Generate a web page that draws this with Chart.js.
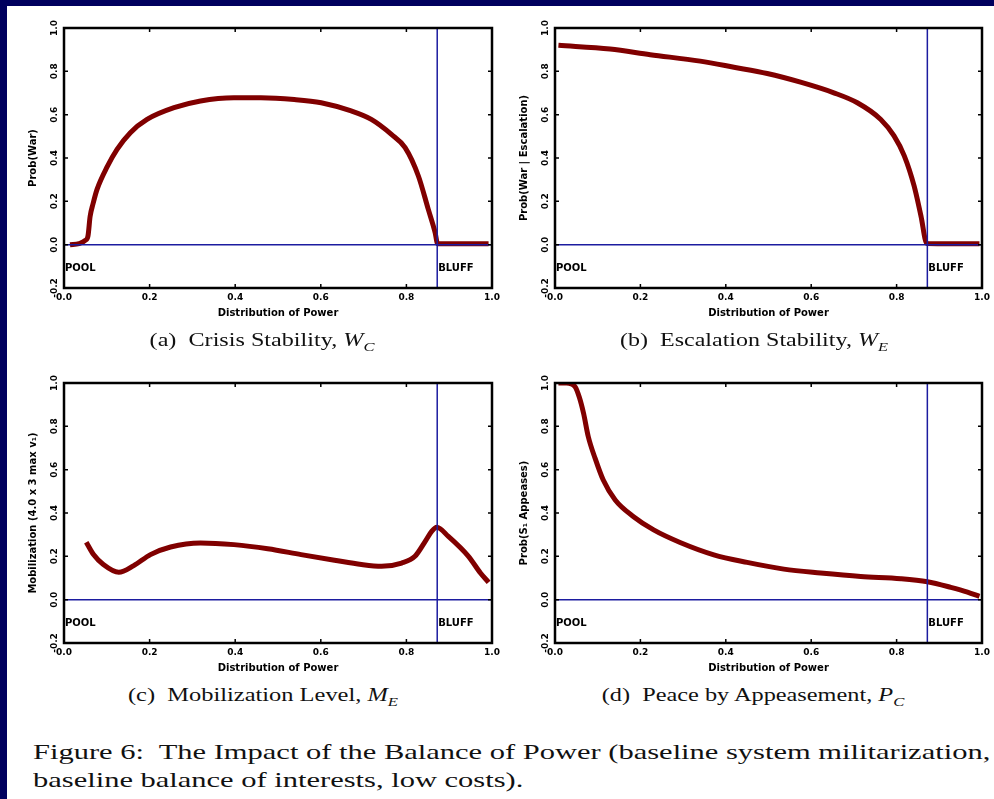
<!DOCTYPE html>
<html>
<head>
<meta charset="utf-8">
<script src="https://cdn.jsdelivr.net/npm/chart.js@4"></script>
<style>
  body { margin: 0; background: #00005e; }
  #page { position: relative; width: 994px; height: 799px; overflow: hidden; background: #00005e; }
  #sheet { position: absolute; left: 7px; top: 6px; right: 0; bottom: 0; background: #fff; }
  .plot { position: absolute; }
  .sub, .cap { position: absolute; font-family: "Liberation Serif", "Times New Roman", serif; color: #111; white-space: nowrap; }
  .sub { font-size: 19px; }
  .sub sub { font-size: 13px; }
  .cap { font-size: 21px; left: 33px; transform-origin: left center; }
</style>
</head>
<body>
<div id="page">
  <div id="sheet"></div>
  <canvas class="plot" id="chartA" width="500" height="320" style="left:0;top:0"></canvas>
  <canvas class="plot" id="chartB" width="494" height="320" style="left:500px;top:0"></canvas>
  <canvas class="plot" id="chartC" width="500" height="320" style="left:0;top:355px"></canvas>
  <canvas class="plot" id="chartD" width="494" height="320" style="left:500px;top:355px"></canvas>

  <div class="sub" data-w="225" style="left:262px;top:342px">(a)&nbsp; Crisis Stability, <i>W</i><sub><i>C</i></sub></div>
  <div class="sub" data-w="268" style="left:754px;top:342px">(b)&nbsp; Escalation Stability, <i>W</i><sub><i>E</i></sub></div>
  <div class="sub" data-w="270" style="left:263px;top:697px">(c)&nbsp; Mobilization Level, <i>M</i><sub><i>E</i></sub></div>
  <div class="sub" data-w="303" style="left:753px;top:697px">(d)&nbsp; Peace by Appeasement, <i>P</i><sub><i>C</i></sub></div>

  <div class="cap" id="cap1" style="top:740px">Figure 6:&nbsp; The Impact of the Balance of Power (baseline system militarization,</div>
  <div class="cap" id="cap2" style="top:768px">baseline balance of interests, low costs).</div>
</div>

<script>
// tick values shared by all four panels
const powerTicks = [0, 0.2, 0.4, 0.6, 0.8, 1.0];
const probTicks  = [-0.2, 0, 0.2, 0.4, 0.6, 0.8, 1.0];
const boundary   = 0.872;   // POOL / BLUFF divide

// (a) Crisis stability
const crisisX = [0.014, 0.035, 0.05, 0.056, 0.061, 0.068, 0.077, 0.101, 0.124, 0.155, 0.194, 0.257, 0.319, 0.397, 0.46, 0.538, 0.601, 0.671, 0.718, 0.765, 0.797, 0.828, 0.851, 0.867, 0.873, 0.93, 0.992];
const crisisY = [0.0, 0.005, 0.02, 0.04, 0.13, 0.19, 0.254, 0.36, 0.44, 0.517, 0.578, 0.632, 0.663, 0.678, 0.678, 0.670, 0.655, 0.617, 0.578, 0.509, 0.448, 0.317, 0.164, 0.057, 0.004, 0.004, 0.004];

// (b) Escalation stability
const escX = [0.008, 0.129, 0.223, 0.34, 0.419, 0.497, 0.575, 0.653, 0.708, 0.763, 0.794, 0.818, 0.841, 0.857, 0.871, 0.93, 0.994];
const escY = [0.920, 0.903, 0.877, 0.847, 0.819, 0.790, 0.750, 0.701, 0.655, 0.578, 0.502, 0.41, 0.271, 0.133, 0.005, 0.004, 0.004];

// (c) Mobilization level
const mobX = [0.052, 0.069, 0.092, 0.128, 0.163, 0.202, 0.249, 0.319, 0.397, 0.476, 0.554, 0.632, 0.695, 0.742, 0.789, 0.820, 0.844, 0.859, 0.871, 0.898, 0.945, 0.973, 0.992];
const mobY = [0.265, 0.208, 0.162, 0.126, 0.157, 0.208, 0.243, 0.262, 0.254, 0.235, 0.208, 0.182, 0.162, 0.154, 0.169, 0.2, 0.269, 0.315, 0.334, 0.292, 0.2, 0.123, 0.08];

// (d) Peace by appeasement
const appX = [0.008, 0.027, 0.047, 0.057, 0.067, 0.078, 0.094, 0.113, 0.141, 0.184, 0.231, 0.293, 0.372, 0.450, 0.536, 0.622, 0.716, 0.810, 0.872, 0.927, 0.966, 0.994];
const appY = [1.0, 1.0, 0.983, 0.934, 0.859, 0.752, 0.652, 0.552, 0.460, 0.383, 0.322, 0.264, 0.207, 0.172, 0.141, 0.123, 0.107, 0.097, 0.083, 0.057, 0.035, 0.015];

const RED  = "#800000";
const BLUE = "#1c1ca0";
const tickFont  = { family: "DejaVu Sans", size: 9, weight: "bold" };
const titleFont = { family: "DejaVu Sans", size: 10, weight: "bold", lineHeight: 1.2 };

// box, inward ticks, rotated y labels, POOL / BLUFF
const framePlugin = {
  id: "frame",
  afterDatasetsDraw(chart) {
    const { ctx, chartArea: a, scales: { x, y } } = chart;
    ctx.save();
    ctx.strokeStyle = "#000";
    ctx.lineWidth = 1.5;
    ctx.beginPath();
    powerTicks.forEach(v => {
      const px = x.getPixelForValue(v);
      ctx.moveTo(px, a.bottom); ctx.lineTo(px, a.bottom - 4);
      ctx.moveTo(px, a.top);    ctx.lineTo(px, a.top + 4);
    });
    probTicks.forEach(v => {
      const py = y.getPixelForValue(v);
      ctx.moveTo(a.left, py);  ctx.lineTo(a.left + 4, py);
      ctx.moveTo(a.right, py); ctx.lineTo(a.right - 4, py);
    });
    ctx.stroke();
    ctx.lineWidth = 2.5;
    ctx.strokeRect(a.left, a.top, a.width, a.height);

    ctx.fillStyle = "#000";
    ctx.font = 'bold 9px "DejaVu Sans"';
    ctx.textAlign = "center";
    ctx.textBaseline = "middle";
    probTicks.forEach(v => {
      ctx.save();
      ctx.translate(a.left - 9, y.getPixelForValue(v));
      ctx.rotate(-Math.PI / 2);
      ctx.fillText(v.toFixed(1), 0, 0);
      ctx.restore();
    });

    ctx.font = 'bold 10px "DejaVu Sans"';
    ctx.textAlign = "left";
    const ly = y.getPixelForValue(-0.11);
    ctx.fillText("POOL", a.left + 1, ly);
    ctx.fillText("BLUFF", x.getPixelForValue(boundary) + 1, ly);
    ctx.restore();
  }
};

function makePanel(id, xs, ys, yTitle, leftW, rightPad) {
  const curve = xs.map((v, i) => ({ x: v, y: ys[i] }));
  new Chart(document.getElementById(id), {
    type: "line",
    data: {
      datasets: [
        { data: [{ x: 0, y: 0 }, { x: 1, y: 0 }], borderColor: BLUE, borderWidth: 1.5 },
        { data: [{ x: boundary, y: -0.2 }, { x: boundary, y: 1 }], borderColor: BLUE, borderWidth: 1.5 },
        { data: curve, borderColor: RED, borderWidth: 5, cubicInterpolationMode: "monotone" }
      ]
    },
    options: {
      responsive: false,
      animation: false,
      elements: { point: { radius: 0 } },
      layout: { padding: { left: 0, top: 28, right: rightPad, bottom: 0 } },
      plugins: { legend: { display: false }, tooltip: { enabled: false } },
      scales: {
        x: {
          type: "linear", min: 0, max: 1,
          grid: { display: false, drawTicks: false },
          border: { display: false },
          ticks: { stepSize: 0.2, autoSkip: false, maxRotation: 0, padding: 4,
                   font: tickFont, color: "#000", callback: v => v.toFixed(1) },
          title: { display: true, text: "Distribution of Power", font: titleFont, color: "#000",
                   padding: { top: 0, bottom: 1 } },
          afterFit(s) { s.height = 32; s.paddingLeft = 0; s.paddingRight = 0; }
        },
        y: {
          min: -0.2, max: 1.0,
          grid: { display: false, drawTicks: false },
          border: { display: false },
          ticks: { display: false, stepSize: 0.2 },
          title: { display: true, text: yTitle, font: titleFont, color: "#000",
                   padding: { top: leftW - 37, bottom: 0 } },
          afterFit(s) { s.width = leftW; s.paddingTop = 0; s.paddingBottom = 0; }
        }
      }
    },
    plugins: [framePlugin]
  });
}

makePanel("chartA", crisisX, crisisY, "Prob(War)", 64, 8);
makePanel("chartB", escX, escY, "Prob(War | Escalation)", 55, 12);
makePanel("chartC", mobX, mobY, "Mobilization (4.0 x 3 max v\u2081)", 64, 8);
makePanel("chartD", appX, appY, "Prob(S\u2081 Appeases)", 55, 12);

// stretch the serif captions to the widths of the original
function fitText() {
  document.querySelectorAll(".sub").forEach(el => {
    const k = Number(el.dataset.w) / el.offsetWidth;
    el.style.transform = "translate(-50%, -50%) scaleX(" + k + ")";
  });
  const c1 = document.getElementById("cap1");
  const c2 = document.getElementById("cap2");
  const k = 957 / c1.offsetWidth;
  c1.style.transform = "scaleX(" + k + ")";
  c2.style.transform = "scaleX(" + k + ")";
}
document.fonts.ready.then(fitText);
</script>
</body>
</html>
